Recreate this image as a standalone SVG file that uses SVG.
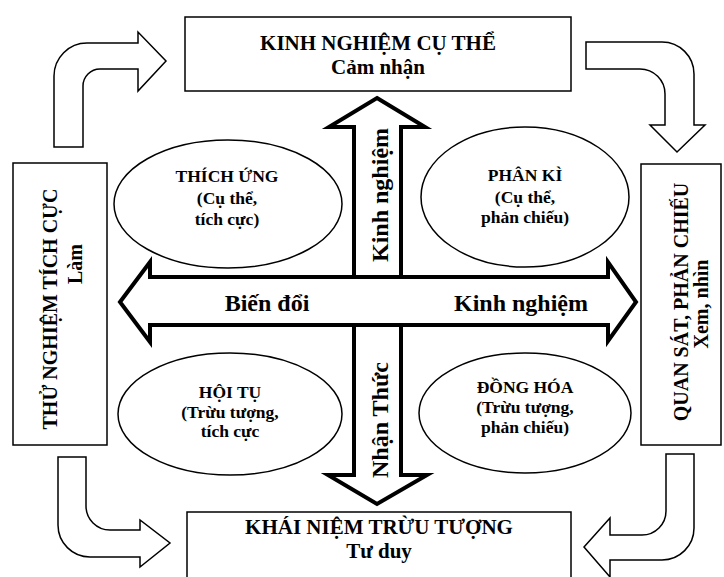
<svg xmlns="http://www.w3.org/2000/svg" width="724" height="577" viewBox="0 0 724 577">
<style>
text{font-family:"Liberation Serif","Times New Roman",serif;font-weight:bold;fill:#000;text-anchor:middle}
.box{fill:#fff;stroke:#000;stroke-width:1.5}
.ell{fill:#fff;stroke:#000;stroke-width:1.5}
.curv{fill:#fff;stroke:#000;stroke-width:1.5;stroke-linejoin:miter}
.cross{fill:#fff;stroke:#000;stroke-width:4;stroke-linejoin:miter}
.t{font-size:21px}
.r{font-size:20px}
.e{font-size:17.5px}
.c{font-size:24px}
</style>
<rect width="724" height="577" fill="#fff"/>
<g id="connectors">
<path class="curv" d="M54 147 L54 76 A33 33 0 0 1 87 43 L138 43 L138 32 L166 61 L138 91 L138 69 L100 69 A17 17 0 0 0 83 86 L83 147 Z"/>
<path class="curv" d="M586 42 L662 42 A32 32 0 0 1 694 74 L694 125 L705 125 L677 152 L650 125 L665 125 L665 94 A25 25 0 0 0 640 69 L586 69 Z"/>
<path class="curv" d="M58 457 L58 525 A32 32 0 0 0 90 557 L140 557 L140 567 L170 543 L140 520 L140 530 L110 530 A24 24 0 0 1 86 506 L86 457 Z"/>
<path class="curv" d="M694 454 L694 528 A32 32 0 0 1 662 560 L610 560 L610 577 L584 547 L610 518 L610 535 L642 535 A24 24 0 0 0 666 511 L666 454 Z"/>
<polygon class="cross" points="377,98 425,127 401,127 401,475 427,475 377,504 328,475 354,475 354,127 329,127"/>
<polygon class="cross" points="120,302 150,262 150,277 608,277 608,262 636,302 608,341 608,325 150,325 150,342"/>
<text class="c" x="267" y="311">Biến đổi</text>
<text class="c" x="521" y="311">Kinh nghiệm</text>
<text class="c" transform="translate(388,195) rotate(-90)">Kinh nghiệm</text>
<text class="c" transform="translate(388,420) rotate(-90)">Nhận Thức</text>
</g>
<g id="n-kinh-nghiem">
<rect class="box" x="185" y="17" width="386" height="74"/>
<text class="t" x="378" y="50">KINH NGHIỆM CỤ THỂ</text>
<text class="t" x="378" y="74">Cảm nhận</text>
</g>
<g id="n-khai-niem">
<rect class="box" x="187" y="512" width="384" height="80"/>
<text class="t" x="379" y="534">KHÁI NIỆM TRỪU TƯỢNG</text>
<text class="t" x="379" y="558">Tư duy</text>
</g>
<g id="n-thu-nghiem">
<rect class="box" x="13" y="163" width="94" height="282"/>
<text class="r" transform="translate(57,309) rotate(-90)">THỬ NGHIỆM TÍCH CỰC</text>
<text class="r" transform="translate(82,264) rotate(-90)">Làm</text>
</g>
<g id="n-quan-sat">
<rect class="box" x="641" y="164" width="80" height="281"/>
<text class="r" transform="translate(688,302) rotate(-90)">QUAN SÁT, PHẢN CHIẾU</text>
<text class="r" transform="translate(708,304) rotate(-90)">Xem, nhìn</text>
</g>
<g id="n-thich-ung">
<ellipse class="ell" cx="228" cy="204" rx="114" ry="64"/>
<text class="e" x="227" y="182">THÍCH ỨNG</text>
<text class="e" x="227" y="204">(Cụ thể,</text>
<text class="e" x="227" y="225">tích cực)</text>
</g>
<g id="n-phan-ki">
<ellipse class="ell" cx="525" cy="197" rx="104" ry="70"/>
<text class="e" x="525" y="181">PHÂN KÌ</text>
<text class="e" x="525" y="203">(Cụ thể,</text>
<text class="e" x="525" y="223">phản chiếu)</text>
</g>
<g id="n-hoi-tu">
<ellipse class="ell" cx="230" cy="414" rx="112" ry="61"/>
<text class="e" x="230" y="398">HỘI TỤ</text>
<text class="e" x="230" y="418">(Trừu tượng,</text>
<text class="e" x="230" y="437">tích cực</text>
</g>
<g id="n-dong-hoa">
<ellipse class="ell" cx="525" cy="413" rx="106" ry="60"/>
<text class="e" x="525" y="393">ĐỒNG HÓA</text>
<text class="e" x="525" y="413">(Trừu tượng,</text>
<text class="e" x="525" y="433">phản chiếu)</text>
</g>
</svg>
